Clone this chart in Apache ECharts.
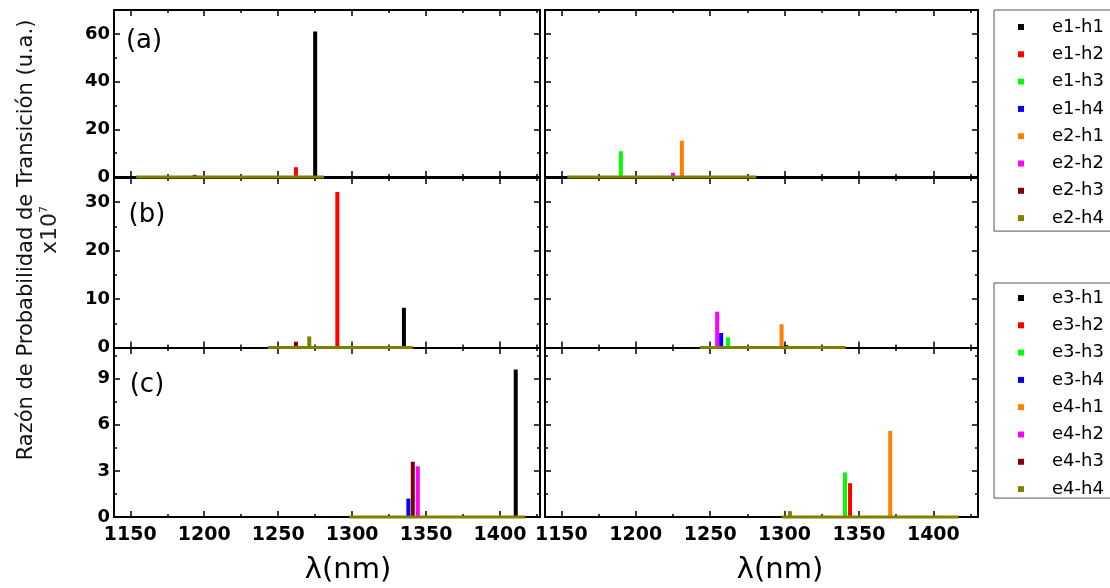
<!DOCTYPE html>
<html>
<head>
<meta charset="utf-8">
<title>Razón de Probabilidad de Transición</title>
<script src="https://cdn.jsdelivr.net/npm/echarts@6.0.0/dist/echarts.min.js"></script>
<style>
html,body{margin:0;padding:0;background:#fff;}
#container{width:1110px;height:588px;}
</style>
</head>
<body>
<div id="container"></div>
<script>
// transiciones de cada leyenda
var names1 = ['e1-h1','e1-h2','e1-h3','e1-h4','e2-h1','e2-h2','e2-h3','e2-h4'];
var names2 = ['e3-h1','e3-h2','e3-h3','e3-h4','e4-h1','e4-h2','e4-h3','e4-h4'];
var palette = ['#000000','#ff0000','#00ff00','#0000ff','#ff8000','#ff00ff','#800000','#808000'];

// marcas de los ejes
var xTicks = [1150,1200,1250,1300,1350,1400];
var xMinor = [1175,1225,1275,1325,1375,1425];
var yTicksA = [0,20,40,60],  yMinorA = [10,30,50];
var yTicksB = [0,10,20,30],  yMinorB = [5,15,25];
var yTicksC = [0,3,6,9],     yMinorC = [1.5,4.5,7.5,10.5];
var yMax = [70, 35, 11];

// picos: [transicion, lambda (nm), valor x10^7]
var peaksA1 = [['e1-h1',1275,61],['e1-h2',1262,4.1],['e2-h3',1193.5,0.9]];
var peaksA2 = [['e1-h3',1190,10.8],['e2-h2',1225,1.8],['e2-h1',1231,15.2]];
var peaksB1 = [['e1-h2',1290,32.1],['e1-h1',1335,8.2],['e2-h4',1271,2.3],['e2-h3',1262,1.2]];
var peaksB2 = [['e2-h2',1254.7,7.4],['e1-h4',1257.4,3.0],['e1-h3',1262,2.1],['e2-h1',1298,4.8],['e1-h1',1301,0.5]];
var peaksC1 = [['e3-h1',1410.6,9.6],['e3-h4',1338,1.2],['e4-h3',1341,3.6],['e4-h2',1344.4,3.3]];
var peaksC2 = [['e3-h3',1340.6,2.9],['e3-h2',1344,2.2],['e4-h1',1371,5.6],['e4-h4',1303.6,0.38]];

// tramo casi nulo (ultima transicion de cada leyenda)
var floorA = [1154,1281];
var floorB = [1243,1341];
var floorC = [1298,1417];

var panels = [
  {peaks:peaksA1, floor:floorA, last:'e2-h4', yt:yTicksA, ym:yMinorA, row:0, col:0},
  {peaks:peaksA2, floor:floorA, last:'e2-h4', yt:yTicksA, ym:yMinorA, row:0, col:1},
  {peaks:peaksB1, floor:floorB, last:'e2-h4', yt:yTicksB, ym:yMinorB, row:1, col:0},
  {peaks:peaksB2, floor:floorB, last:'e2-h4', yt:yTicksB, ym:yMinorB, row:1, col:1},
  {peaks:peaksC1, floor:floorC, last:'e4-h4', yt:yTicksC, ym:yMinorC, row:2, col:0},
  {peaks:peaksC2, floor:floorC, last:'e4-h4', yt:yTicksC, ym:yMinorC, row:2, col:1}
];
var cols = [{left:114, width:426, min:1139, max:1427},{left:545, width:433, min:1139, max:1430}];
var rows = [{top:10, height:167},{top:178, height:169.5},{top:348, height:169}];

function colorOf(n){
  var i = names1.indexOf(n);
  if (i < 0) i = names2.indexOf(n);
  return palette[i];
}

var grid = [], xAxis = [], yAxis = [], series = [];
panels.forEach(function(p, gi){
  var c = cols[p.col], r = rows[p.row];
  grid.push({left:c.left, top:r.top, width:c.width, height:r.height});
  var xi = xAxis.length, yi = yAxis.length;
  ['bottom','top'].forEach(function(pos){
    [[xTicks,6],[xMinor,3]].forEach(function(t, k){
      xAxis.push({
        type:'value', gridIndex:gi, position:pos, min:c.min, max:c.max,
        axisLine:{show:k===0, onZero:false, lineStyle:{color:'#000', width:2}},
        axisTick:{inside:true, length:t[1], customValues:t[0], lineStyle:{color:'#000', width:1.5}},
        axisLabel:{show:(pos==='bottom' && k===0 && p.row===2), customValues:xTicks, margin:9,
          formatter:function(v){ return String(v); },
          fontFamily:'DejaVu Sans', fontWeight:'bold', fontSize:19, color:'#000'},
        splitLine:{show:false}
      });
    });
  });
  ['left','right'].forEach(function(pos){
    [[p.yt,6],[p.ym,3]].forEach(function(t, k){
      yAxis.push({
        type:'value', gridIndex:gi, position:pos, min:0, max:yMax[p.row],
        axisLine:{show:k===0, onZero:false, lineStyle:{color:'#000', width:2}},
        axisTick:{inside:true, length:t[1], customValues:t[0], lineStyle:{color:'#000', width:1.5}},
        axisLabel:{show:(pos==='left' && k===0 && p.col===0), customValues:p.yt, margin:4,
          fontFamily:'DejaVu Sans', fontWeight:'bold', fontSize:18, color:'#000'},
        splitLine:{show:false}
      });
    });
  });
  p.peaks.forEach(function(pk){
    series.push({
      type:'bar', name:pk[0], xAxisIndex:xi, yAxisIndex:yi,
      barWidth:4, barGap:'-100%',
      itemStyle:{color:colorOf(pk[0])},
      data:[[pk[1], pk[2]]]
    });
  });
  series.push({
    type:'line', name:p.last, xAxisIndex:xi, yAxisIndex:yi,
    symbol:'none', clip:false,
    itemStyle:{color:colorOf(p.last)},
    lineStyle:{color:colorOf(p.last), width:3},
    data:[[p.floor[0],0],[p.floor[1],0]]
  });
});

function legendOf(names, top, pad){
  return {
    orient:'vertical', left:994, top:top, padding:pad, itemGap:9.3,
    itemWidth:6, itemHeight:6, icon:'rect', selectedMode:false,
    borderColor:'#555', borderWidth:1,
    textStyle:{fontFamily:'DejaVu Sans', fontSize:18, lineHeight:16, color:'#000', padding:[0,0,0,23]},
    data:names.map(function(n){ return {name:n, icon:'rect'}; })
  };
}

var lblFont = '26px "DejaVu Sans"';
var option = {
  animation:false,
  backgroundColor:'#fff',
  grid:grid,
  xAxis:xAxis,
  yAxis:yAxis,
  legend:[legendOf(names1, 10, [8,40,4,24]), legendOf(names2, 283, [6,40,0,24])],
  graphic:[
    {type:'text', x:144, y:41, style:{text:'(a)', font:lblFont, fill:'#000', align:'center', verticalAlign:'middle'}},
    {type:'text', x:147, y:215, style:{text:'(b)', font:lblFont, fill:'#000', align:'center', verticalAlign:'middle'}},
    {type:'text', x:147, y:385, style:{text:'(c)', font:lblFont, fill:'#000', align:'center', verticalAlign:'middle'}},
    {type:'text', x:348, y:570, style:{text:'λ(nm)', font:'29px "DejaVu Sans"', fill:'#000', align:'center', verticalAlign:'middle'}},
    {type:'text', x:780, y:570, style:{text:'λ(nm)', font:'29px "DejaVu Sans"', fill:'#000', align:'center', verticalAlign:'middle'}},
    {type:'text', x:27, y:240, rotation:Math.PI/2,
      style:{text:'Razón de Probabilidad de Transición (u.a.)', font:'21px "DejaVu Sans"', fill:'#111', align:'center', verticalAlign:'middle'}},
    {type:'text', x:50, y:230, rotation:Math.PI/2,
      style:{text:'{a|x10}{b|7}', align:'center', verticalAlign:'middle',
        rich:{a:{fontFamily:'DejaVu Sans', fontSize:22, fill:'#222', color:'#222', verticalAlign:'bottom'},
              b:{fontFamily:'DejaVu Sans', fontSize:11, fill:'#222', color:'#222', verticalAlign:'top'}}}}
  ],
  series:series
};

if (option && typeof option === 'object') {
  myChart = echarts.init(document.getElementById('container'));
  myChart.setOption(option, true);
}
</script>
</body>
</html>
